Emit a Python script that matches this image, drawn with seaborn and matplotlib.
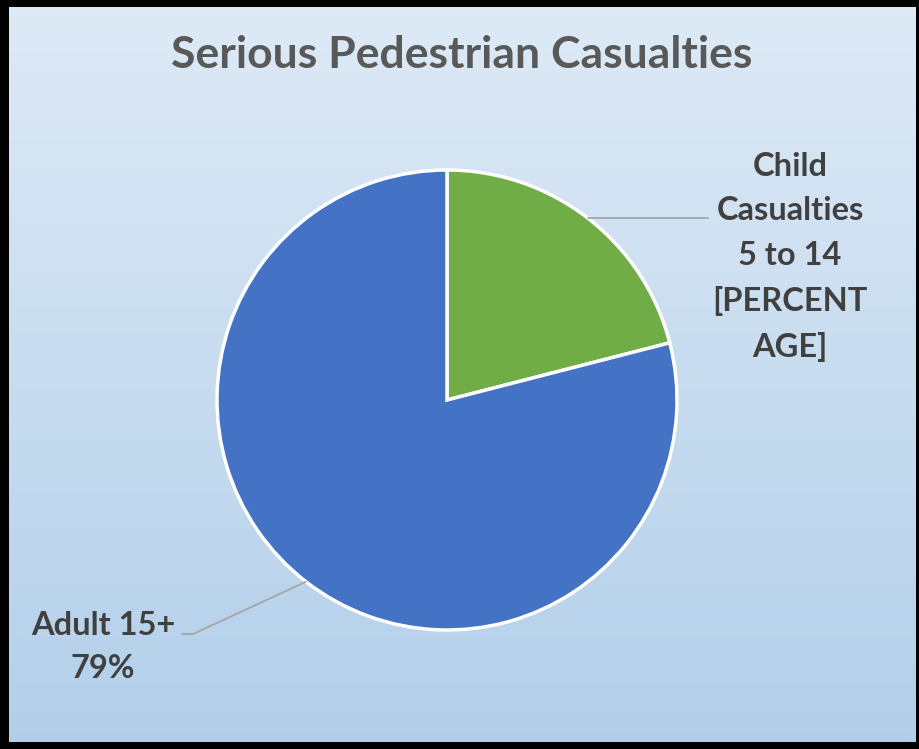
import numpy as np
import matplotlib
matplotlib.use("Agg")
import matplotlib.pyplot as plt
from matplotlib.patches import Rectangle
from matplotlib.lines import Line2D
from matplotlib.colors import LinearSegmentedColormap
import seaborn as sns

# ---- data ----
categories = ["Child\nCasualties\n5 to 14\n[PERCENT\nAGE]", "Adult 15+\n79%"]
values = [21, 79]
slice_colors = ["#70AD47", "#4472C4"]
title = "Serious Pedestrian Casualties"

sns.set_theme(style="white")
plt.rcParams["font.family"] = ["Lato", "DejaVu Sans"]

W, H = 920, 749
fig = plt.figure(figsize=(W / 100, H / 100), dpi=100)

def fx(x):
    return x / W

def fy(y):
    return 1 - y / H

# gradient background
bg = fig.add_axes([0, 0, 1, 1], zorder=0)
cmap = LinearSegmentedColormap.from_list("bg", ["#deeaf6", "#b2cfea"])
grad = np.linspace(0, 1, 256).reshape(-1, 1)
bg.imshow(grad, aspect="auto", cmap=cmap, extent=[0, 1, 0, 1], origin="upper")
bg.set_axis_off()

# pie axes: center (447,400), radius 230 px
cx, cy, r = 447, 400, 230
ax = fig.add_axes([fx(cx - r), fy(cy + r), 2 * r / W, 2 * r / H], zorder=2)
ax.set_facecolor("none")
wedges, _ = ax.pie(values, colors=slice_colors, startangle=90, counterclock=False,
                   wedgeprops=dict(edgecolor="white", linewidth=2.5), radius=1)
ax.set_xlim(-1.0, 1.0)
ax.set_ylim(-1.0, 1.0)
ax.set_aspect("equal")
ax.set_axis_off()

fig.text(fx(462), fy(55), title, ha="center", va="center", fontsize=32,
         fontweight="bold", color="#595959")

lab_color = "#404040"
line_color = "#a6a6a6"

# leader lines computed from wedge mid-angles
def anchor(w):
    ang = np.deg2rad((w.theta1 + w.theta2) / 2)
    p = ax.transData.transform((np.cos(ang), np.sin(ang)))
    return fig.transFigure.inverted().transform(p)

a0 = anchor(wedges[0])
fig.add_artist(Line2D([a0[0], fx(708)], [a0[1], a0[1]], transform=fig.transFigure,
                      color=line_color, lw=1.3, zorder=3))
fig.text(fx(790), fy(257), categories[0], ha="center", va="center", fontsize=23.5,
         fontweight="bold", color=lab_color, linespacing=1.65)

a1 = anchor(wedges[1])
fig.add_artist(Line2D([a1[0], fx(193), fx(182)], [a1[1], fy(634), fy(634)],
                      transform=fig.transFigure, color=line_color, lw=1.3, zorder=3))
fig.text(fx(103), fy(647), categories[1], ha="center", va="center", fontsize=23.5,
         fontweight="bold", color=lab_color, linespacing=1.6)

# black frame
for (x0, y0, w, h) in [(0, 0, 9, H), (0, 0, W, 7), (W - 4, 0, 4, H), (0, H - 7, W, 7)]:
    fig.add_artist(Rectangle((fx(x0), fy(y0 + h)), w / W, h / H, transform=fig.transFigure,
                             facecolor="black", edgecolor="none", zorder=10))

fig.savefig("out.png", dpi=100)
